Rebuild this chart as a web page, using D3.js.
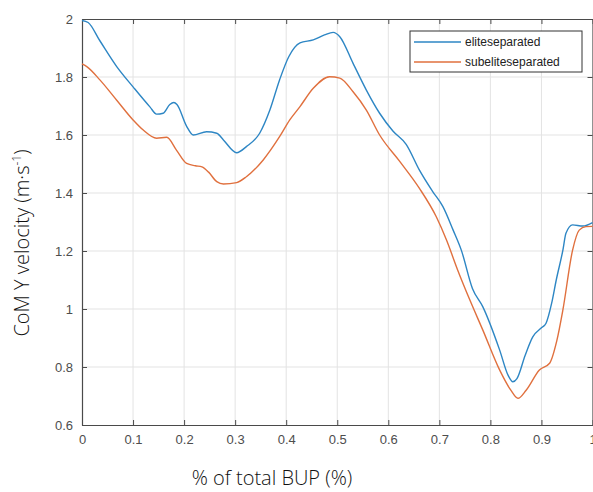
<!DOCTYPE html>
<html>
<head>
<meta charset="utf-8">
<script src="https://cdn.jsdelivr.net/npm/d3@7"></script>
<style>
  body { margin: 0; background: #fff; }
  svg { display: block; }
</style>
</head>
<body>
<div id="chart"></div>
<script>
// data
const xElite = [0, 0.012, 0.035, 0.068, 0.1, 0.133, 0.146, 0.159, 0.172, 0.18, 0.186, 0.205, 0.218, 0.244, 0.264, 0.277, 0.303, 0.322, 0.348, 0.368, 0.387, 0.405, 0.427, 0.453, 0.475, 0.492, 0.505, 0.531, 0.557, 0.583, 0.609, 0.635, 0.661, 0.687, 0.707, 0.727, 0.743, 0.765, 0.785, 0.818, 0.835, 0.844, 0.852, 0.868, 0.883, 0.9, 0.909, 0.92, 0.929, 0.942, 0.948, 0.961, 0.981, 1.0];
const yElite = [1.995, 1.988, 1.925, 1.836, 1.766, 1.697, 1.672, 1.675, 1.705, 1.712, 1.705, 1.63, 1.6, 1.611, 1.606, 1.583, 1.539, 1.56, 1.606, 1.686, 1.79, 1.87, 1.918, 1.928, 1.945, 1.954, 1.939, 1.847, 1.755, 1.675, 1.614, 1.568, 1.479, 1.405, 1.353, 1.272, 1.203, 1.07, 1.008, 0.859, 0.77, 0.749, 0.76, 0.84, 0.904, 0.935, 0.951, 1.02, 1.1, 1.203, 1.261, 1.29, 1.286, 1.298];

const xSub = [0, 0.01, 0.035, 0.068, 0.1, 0.12, 0.146, 0.166, 0.185, 0.205, 0.222, 0.235, 0.248, 0.264, 0.277, 0.303, 0.322, 0.355, 0.387, 0.407, 0.427, 0.453, 0.485, 0.505, 0.531, 0.557, 0.583, 0.622, 0.661, 0.694, 0.714, 0.736, 0.76, 0.785, 0.818, 0.84, 0.854, 0.87, 0.896, 0.916, 0.93, 0.942, 0.961, 0.974, 0.987, 1.0];
const ySub = [1.845, 1.835, 1.79, 1.72, 1.652, 1.617, 1.589, 1.592, 1.548, 1.502, 1.494, 1.49, 1.472, 1.439, 1.431, 1.436, 1.456, 1.514, 1.594, 1.652, 1.698, 1.761, 1.801, 1.796, 1.749, 1.686, 1.6, 1.51, 1.416, 1.318, 1.238, 1.134, 1.03, 0.928, 0.79, 0.72, 0.692, 0.72, 0.79, 0.813, 0.89, 0.997, 1.203, 1.272, 1.284, 1.285];

const seriesNames = ['eliteseparated', 'subeliteseparated'];
const seriesColors = ['#2d86c4', '#e0703e'];
const xTicks = [0, 0.1, 0.2, 0.3, 0.4, 0.5, 0.6, 0.7, 0.8, 0.9, 1];
const yTicks = [0.6, 0.8, 1, 1.2, 1.4, 1.6, 1.8, 2];

const W = 593, H = 492;
const margin = { top: 19, right: 0.5, bottom: 67, left: 82 };
const width = W - margin.left - margin.right;
const height = H - margin.top - margin.bottom;

const svg = d3.select('#chart').append('svg')
    .attr('width', W)
    .attr('height', H);

const g = svg.append('g')
    .attr('transform', `translate(${margin.left},${margin.top})`);

const x = d3.scaleLinear().domain([0, 1]).range([0, width]);
const y = d3.scaleLinear().domain([0.6, 2]).range([height, 0]);

// grid
g.append('g').selectAll('line').data(xTicks.slice(1, -1)).join('line')
    .attr('x1', d => x(d)).attr('x2', d => x(d))
    .attr('y1', 0).attr('y2', height)
    .style('stroke', '#e3e3e3').style('stroke-width', 1);
g.append('g').selectAll('line').data(yTicks.slice(1, -1)).join('line')
    .attr('x1', 0).attr('x2', width)
    .attr('y1', d => y(d)).attr('y2', d => y(d))
    .style('stroke', '#e3e3e3').style('stroke-width', 1);

// axes
const fmt = d => String(d);
const xAxis = g.append('g')
    .attr('transform', `translate(0,${height})`)
    .call(d3.axisBottom(x).tickValues(xTicks).tickFormat(fmt).tickSizeInner(-5).tickSizeOuter(0).tickPadding(10));
const yAxis = g.append('g')
    .call(d3.axisLeft(y).tickValues(yTicks).tickFormat(fmt).tickSizeInner(-5).tickSizeOuter(0).tickPadding(9));
const xTop = g.append('g')
    .call(d3.axisTop(x).tickValues(xTicks).tickFormat('').tickSizeInner(-5).tickSizeOuter(0));
const yRight = g.append('g')
    .attr('transform', `translate(${width},0)`)
    .call(d3.axisRight(y).tickValues(yTicks).tickFormat('').tickSizeInner(-5).tickSizeOuter(0));

[xAxis, yAxis, xTop, yRight].forEach(a => {
    a.select('.domain').style('stroke', '#4a4a4a').style('stroke-width', 1.2);
    a.selectAll('.tick line').style('stroke', '#4a4a4a');
    a.selectAll('.tick text')
        .style('font-family', 'Liberation Sans, Arial, sans-serif')
        .style('font-size', '13px')
        .style('fill', '#4d4d4d');
});

// lines
const line = d3.line()
    .x(d => x(d[0]))
    .y(d => y(d[1]))
    .curve(d3.curveMonotoneX);

const series = [
    d3.zip(xElite, yElite),
    d3.zip(xSub, ySub)
];
series.forEach((s, i) => {
    g.append('path')
        .datum(s)
        .attr('d', line)
        .style('fill', 'none')
        .style('stroke', seriesColors[i])
        .style('stroke-width', 1.4);
});

// legend
const legend = g.append('g')
    .attr('transform', `translate(${410 - margin.left},${31 - margin.top})`);
legend.append('rect')
    .attr('width', 172).attr('height', 41)
    .style('fill', '#fff').style('stroke', '#333').style('stroke-width', 1);
seriesNames.forEach((name, i) => {
    const yy = 11 + i * 20;
    legend.append('line')
        .attr('x1', 4).attr('x2', 51)
        .attr('y1', yy).attr('y2', yy)
        .style('stroke', seriesColors[i]).style('stroke-width', 1.4);
    legend.append('text')
        .attr('x', 55).attr('y', yy + 4)
        .style('font-family', 'Liberation Sans, Arial, sans-serif')
        .style('font-size', '12px')
        .style('fill', '#222')
        .text(name);
});

// axis titles
svg.append('text')
    .attr('x', 272).attr('y', 485)
    .attr('text-anchor', 'middle')
    .style('font-family', 'Open Sans, sans-serif')
    .style('font-weight', 300)
    .style('font-size', '20px')
    .style('fill', '#111')
    .text('% of total BUP (%)');

const yt = svg.append('text')
    .attr('transform', 'translate(29,243) rotate(-90)')
    .attr('text-anchor', 'middle')
    .style('font-family', 'Open Sans, sans-serif')
    .style('font-weight', 300)
    .style('font-size', '20px')
    .style('fill', '#111');
yt.append('tspan').text('CoM Y velocity (m·s');
yt.append('tspan').attr('dy', -8).style('font-size', '12px').text('-1');
yt.append('tspan').attr('dy', 8).text(')');
</script>
</body>
</html>
